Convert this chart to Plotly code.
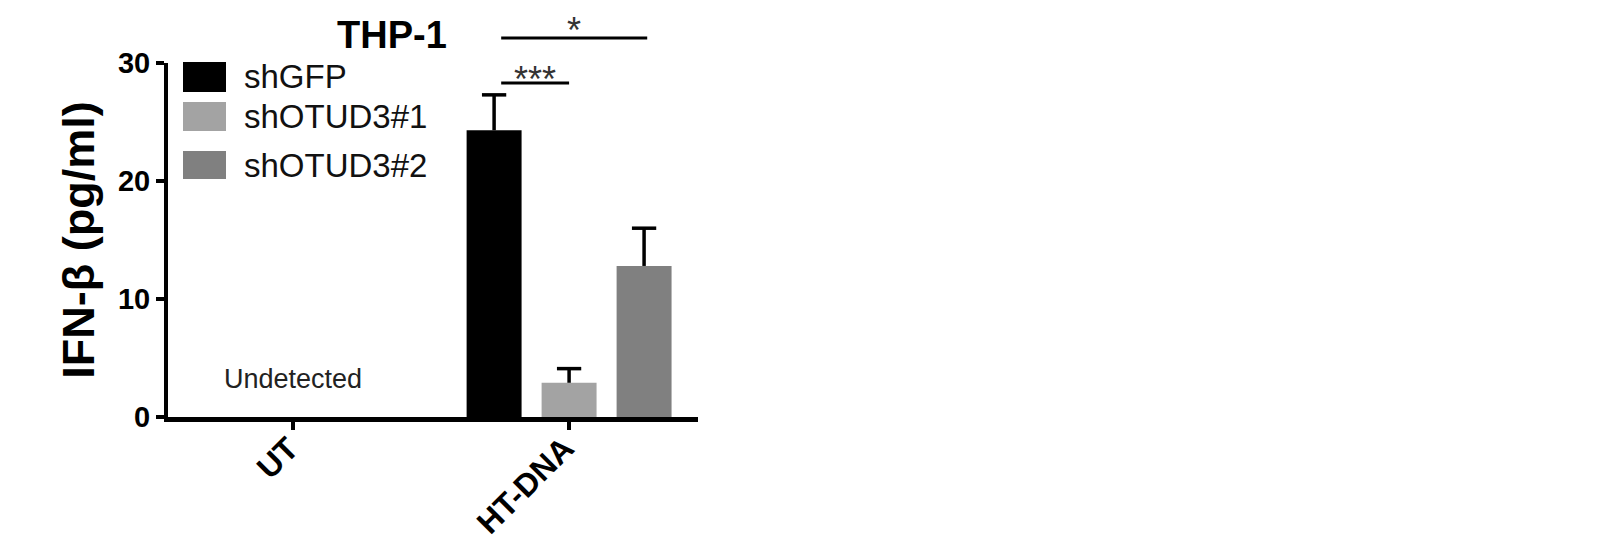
import plotly.graph_objects as go

# data (UT: undetected, so no bars)
categories = ["UT", "HT-DNA"]
series_names = ["shGFP", "shOTUD3#1", "shOTUD3#2"]
shgfp = [None, 24.3]
shgfp_err = [None, 3.0]
shotud3_1 = [None, 2.9]
shotud3_1_err = [None, 1.2]
shotud3_2 = [None, 12.8]
shotud3_2_err = [None, 3.2]

# colour of the bars
colours = ['#000000', '#a3a3a3', '#808080']
font_family = "Arial, Liberation Sans, sans-serif"

# page has an 8px body margin, so the figure is a bit smaller than the window
PAGE = 8
W, H = 1618 - 2 * PAGE, 558 - 2 * PAGE
# plot area in reference pixels (used for paper coordinates)
L, R, T, B = 168, 698, 63, 417

bargap = 0.185
bargroupgap = 0.267
cap_half = 0.044  # half width of error bar cap, in category units


def px(x):
    return (x - L) / (R - L)


def py(y):
    return (B - y) / (B - T)


fig = go.Figure()

values = [shgfp, shotud3_1, shotud3_2]
errors = [shgfp_err, shotud3_1_err, shotud3_2_err]
slot = (1 - bargap) / len(values)
for i, (name, vals, errs, colour) in enumerate(zip(series_names, values, errors, colours)):
    fig.add_trace(
        go.Bar(
            x=categories, y=vals, name=name,
            marker=dict(color=colour, line=dict(width=0)),
            showlegend=False))

    # upper error bars only (stem starts at bar top, no lower cap)
    offset = (i - (len(values) - 1) / 2) * slot
    for c, (v, e) in enumerate(zip(vals, errs)):
        if v is None or e is None:
            continue
        xc = c + offset
        fig.add_shape(type='line', xref='x', yref='y', x0=xc, x1=xc, y0=v, y1=v + e,
                      line=dict(color='black', width=3.5))
        fig.add_shape(type='line', xref='x', yref='y', x0=xc - cap_half, x1=xc + cap_half,
                      y0=v + e, y1=v + e, line=dict(color='black', width=3.5))

# legend drawn by hand (big square swatches)
legend_rows = [(62, 92, 77), (102, 131, 116), (151, 179, 165)]
for (top, bot, mid), name, colour in zip(legend_rows, series_names, colours):
    fig.add_shape(type='rect', xref='paper', yref='paper',
                  x0=px(183), x1=px(226), y0=py(bot), y1=py(top),
                  fillcolor=colour, line=dict(width=0))
    fig.add_annotation(xref='paper', yref='paper', x=px(242), y=py(mid),
                       text=name, showarrow=False, xanchor='left', yanchor='middle',
                       font=dict(size=33, color='#111111', family=font_family))

# x tick labels, rotated, placed by hand so they sit close to the axis
for cat in categories:
    fig.add_annotation(xref='x', yref='paper', x=cat, y=py(427), xshift=15,
                       text='<b>' + cat + '</b>', textangle=-45, showarrow=False,
                       xanchor='right', yanchor='top',
                       font=dict(size=32, color='black', family=font_family))

# significance brackets
fig.add_shape(type='line', xref='x', yref='paper', x0=0.754, x1=1.0,
              y0=py(83), y1=py(83), line=dict(color='black', width=3))
fig.add_annotation(xref='x', yref='paper', x=0.878, y=py(80), text='***',
                   showarrow=False, xanchor='center', yanchor='middle',
                   font=dict(size=36, color='#333333', family=font_family))
fig.add_shape(type='line', xref='x', yref='paper', x0=0.754, x1=1.283,
              y0=py(38), y1=py(38), line=dict(color='black', width=3))
fig.add_annotation(xref='x', yref='paper', x=1.018, y=py(31), text='*',
                   showarrow=False, xanchor='center', yanchor='middle',
                   font=dict(size=36, color='#333333', family=font_family))

# "Undetected" label for UT
fig.add_annotation(xref='x', yref='y', x=0, y=3.2, text='Undetected',
                   showarrow=False, xanchor='center', yanchor='middle',
                   font=dict(size=27, color='#222222', family=font_family))

# title
fig.add_annotation(xref='paper', yref='paper', x=px(392), y=py(35), text='<b>THP-1</b>',
                   showarrow=False, xanchor='center', yanchor='middle',
                   font=dict(size=38, color='black', family=font_family))

fig.update_layout(
    width=W, height=H,
    margin=dict(l=L - PAGE, r=W - (R - PAGE), t=T - PAGE, b=H - (B - PAGE), pad=0),
    paper_bgcolor='white', plot_bgcolor='white',
    barmode='group', bargap=bargap, bargroupgap=bargroupgap,
    font=dict(family=font_family, color='black'),
)

fig.update_xaxes(
    type='category', range=[-0.453, 1.467], automargin=False,
    showline=True, linecolor='black', linewidth=5,
    ticks='outside', ticklen=8, tickwidth=4, tickcolor='black',
    showticklabels=False,
    showgrid=False, zeroline=False)

fig.update_yaxes(
    range=[0, 30], tickvals=[0, 10, 20, 30], automargin=False,
    showline=True, linecolor='black', linewidth=4,
    ticks='outside', ticklen=8, tickwidth=4, tickcolor='black',
    tickfont=dict(size=29, family=font_family, weight='bold'),
    title=dict(text='<b>IFN-β (pg/ml)</b>', standoff=10,
               font=dict(size=45, family=font_family)),
    showgrid=False, zeroline=False)

fig.write_html("out.html")
